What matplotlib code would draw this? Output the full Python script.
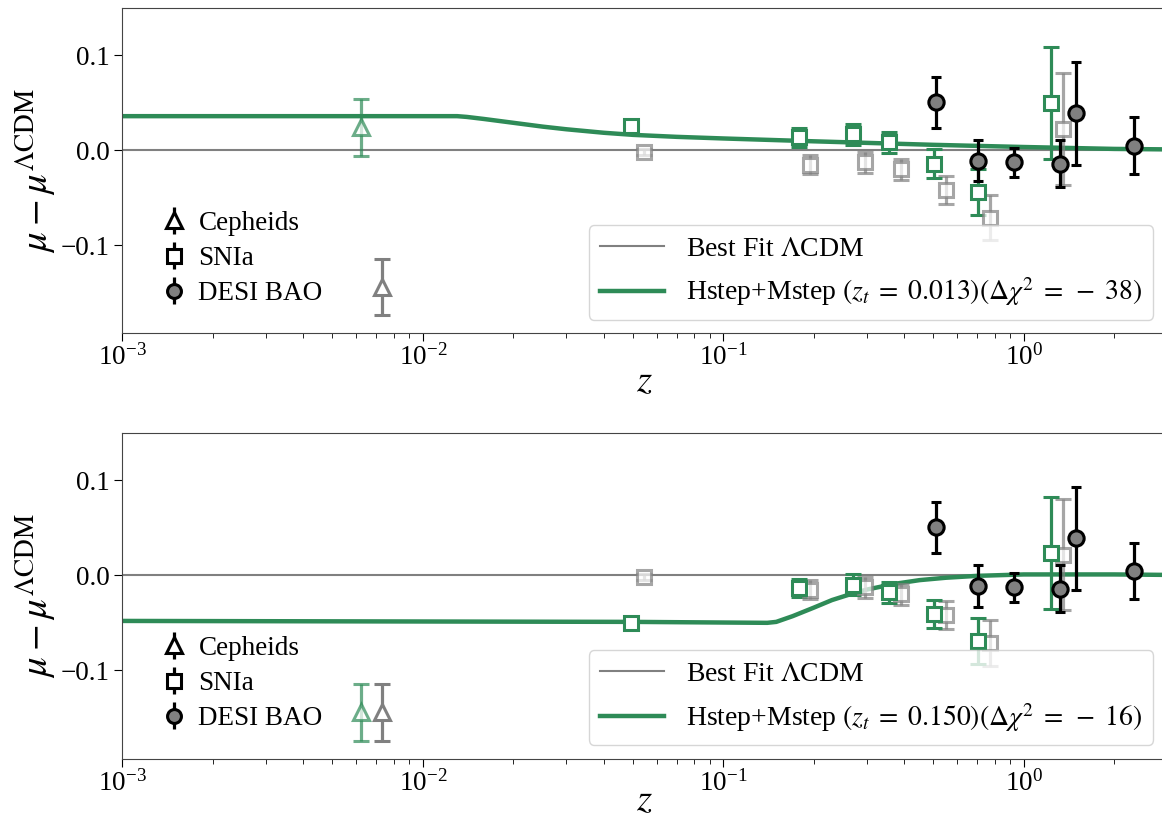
"""Hubble-diagram residuals mu - mu_LCDM for two step models (zt = 0.013 and zt = 0.150)."""

import numpy as np
import matplotlib
matplotlib.use("Agg")
import matplotlib.pyplot as plt

plt.rcParams["font.family"] = "serif"
plt.rcParams["font.serif"] = ["Liberation Serif", "DejaVu Serif"]
plt.rcParams["mathtext.fontset"] = "stix"

GREEN = "#2E8B57"

# ---- data ----
# Cepheids (corrected = green, raw = grey)
z_ceph = [0.0062]
z_ceph_raw = [0.0073]
mu_ceph_top = [0.0245]
mu_ceph_bot = [-0.144]
mu_ceph_raw = [-0.144]
err_ceph = [0.030]

# SNIa
z_sn = [0.0494, 0.178, 0.270, 0.356, 0.501, 0.705, 1.23]
z_sn_raw = [0.0543, 0.195, 0.296, 0.391, 0.551, 0.774, 1.355]
mu_sn_top = [0.026, 0.0136, 0.0171, 0.0084, -0.014, -0.044, 0.050]
mu_sn_bot = [-0.050, -0.0133, -0.0098, -0.0178, -0.0405, -0.069, 0.024]
mu_sn_raw = [-0.002, -0.015, -0.0126, -0.020, -0.042, -0.071, 0.022]
err_sn = [0.003, 0.010, 0.011, 0.011, 0.015, 0.024, 0.059]

# DESI BAO
z_bao = [0.51, 0.706, 0.93, 1.317, 1.491, 2.33]
mu_bao = [0.0506, -0.0108, -0.0126, -0.014, 0.039, 0.0049]
err_bao = [0.0267, 0.022, 0.0155, 0.025, 0.054, 0.0297]

# model curves
z_curve_top = [1e-3, 0.013, 0.014, 0.016, 0.02, 0.025, 0.03, 0.04, 0.05, 0.07, 0.1, 0.2, 0.5, 1.0, 2.0, 3.0]
mu_curve_top = [0.036, 0.036, 0.0352, 0.0330, 0.0290, 0.0250, 0.0222, 0.0185, 0.0163, 0.0142, 0.0125,
                0.0095, 0.0058, 0.0035, 0.0015, 0.001]
z_curve_bot = [1e-3, 0.05, 0.14, 0.15, 0.17, 0.2, 0.23, 0.27, 0.3, 0.37, 0.45, 0.55, 0.7, 1.0, 2.0, 3.0]
mu_curve_bot = [-0.048, -0.049, -0.050, -0.049, -0.043, -0.034, -0.026, -0.019, -0.015, -0.009, -0.005,
                -0.0025, -0.0005, 0.001, 0.001, 0.0005]

panels = [
    dict(mu_ceph=mu_ceph_top, mu_sn=mu_sn_top, z_curve=z_curve_top, mu_curve=mu_curve_top,
         label=r"Hstep+Mstep $(z_t\;=\;0.013)(\Delta\chi^2\;=\;-\;38)$", xpad=-6),
    dict(mu_ceph=mu_ceph_bot, mu_sn=mu_sn_bot, z_curve=z_curve_bot, mu_curve=mu_curve_bot,
         label=r"Hstep+Mstep $(z_t\;=\;0.150)(\Delta\chi^2\;=\;-\;16)$", xpad=-10),
]

fig = plt.figure(figsize=(11.62, 8.22), dpi=100)
axes = [fig.add_axes([0.1054, 0.5943, 0.899, 0.396]),
        fig.add_axes([0.1054, 0.0772, 0.899, 0.396])]

ebkw = dict(linestyle="none", elinewidth=2.3, capthick=2.3, markeredgewidth=2.2)

for ax, p in zip(axes, panels):
    l_lcdm, = ax.plot([1e-3, 3], [0, 0], color="grey", lw=1.5, label=r"Best Fit $\Lambda$CDM")
    l_step, = ax.plot(p["z_curve"], p["mu_curve"], color=GREEN, lw=3.2, label=p["label"])

    # Cepheids
    ax.errorbar(z_ceph_raw, mu_ceph_raw, yerr=err_ceph, fmt="^", color="grey", mfc="white",
                ms=12, capsize=6, **ebkw)
    ax.errorbar(z_ceph, p["mu_ceph"], yerr=err_ceph, fmt="^", color=GREEN, mfc="white",
                ms=12, capsize=6, alpha=0.7, **ebkw)

    # SNIa
    ax.errorbar(z_sn_raw, mu_sn_raw, yerr=err_sn, fmt="s", color="grey", mfc="white",
                ms=10, capsize=5.5, alpha=0.7, **ebkw)
    ax.errorbar(z_sn, p["mu_sn"], yerr=err_sn, fmt="s", color=GREEN, mfc="white",
                ms=10, capsize=5.5, **ebkw)

    # DESI BAO
    ax.errorbar(z_bao, mu_bao, yerr=err_bao, fmt="o", color="black", mfc="grey",
                ms=11, capsize=3.5, **ebkw)

    # proxy handles for the probe legend
    h_c = ax.errorbar([np.nan], [np.nan], yerr=[np.nan], fmt="^", color="black", mfc="white",
                      ms=11, capsize=0, **ebkw)
    h_s = ax.errorbar([np.nan], [np.nan], yerr=[np.nan], fmt="s", color="black", mfc="white",
                      ms=10, capsize=0, **ebkw)
    h_b = ax.errorbar([np.nan], [np.nan], yerr=[np.nan], fmt="o", color="black", mfc="grey",
                      ms=10, capsize=0, **ebkw)

    leg1 = ax.legend([h_c, h_s, h_b], ["Cepheids", "SNIa", "DESI BAO"], loc="lower left",
                     bbox_to_anchor=(0.026, 0.05), borderaxespad=0, frameon=False,
                     fontsize=19.5, handlelength=1.0, handletextpad=0.4, labelspacing=0.38)
    ax.add_artist(leg1)
    ax.legend([l_lcdm, l_step], [l_lcdm.get_label(), l_step.get_label()], loc="lower right",
              fontsize=20, framealpha=0.8, handlelength=2.3)

    ax.set_xscale("log")
    ax.set_xlim(1e-3, 3)
    ax.set_ylim(-0.193, 0.15)
    ax.set_yticks([-0.1, 0.0, 0.1])
    ax.set_xlabel(r"$z$", fontsize=28, labelpad=p["xpad"])
    ax.set_ylabel(r"$\mu - \mu^{\Lambda\mathrm{CDM}}$", fontsize=28, labelpad=2)
    ax.tick_params(axis="both", which="major", labelsize=19.5, length=6)
    ax.tick_params(axis="x", which="both", pad=2)
    ax.tick_params(axis="x", which="minor", length=3.5)
    for s in ax.spines.values():
        s.set_color("#444444")

fig.savefig("out.png", dpi=100)
